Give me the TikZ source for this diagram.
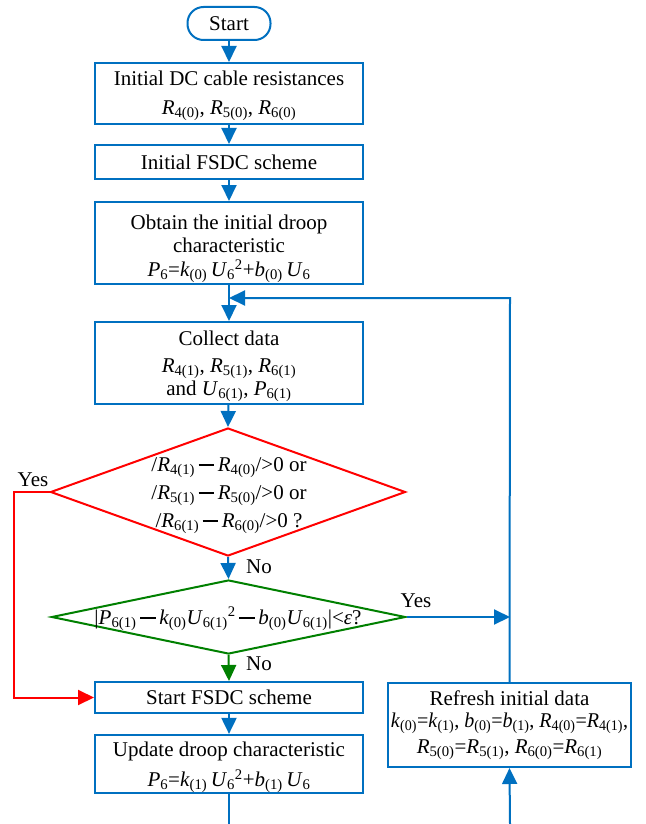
\documentclass[tikz,border=0pt]{standalone}
\usepackage{fontspec}
\usepackage{graphicx}
\setmainfont{Liberation Serif}
\usetikzlibrary{shapes.geometric,arrows.meta}
\definecolor{fblue}{RGB}{0,112,192}
\definecolor{fred}{RGB}{255,0,0}
\definecolor{fgreen}{RGB}{0,128,0}
\newcommand{\Vr}[2]{\textit{#1}\textsubscript{#2}}
\newcommand{\mns}{\,\rule[0.28em]{0.75em}{0.09em}\,}
\newcommand{\tstrut}[1]{\rule{0pt}{#1}}
\begin{document}
\begin{tikzpicture}[x=1pt,y=-1pt,
  font=\fontsize{21}{24}\selectfont,
  boxs/.style={draw=fblue,line width=2pt,minimum width=268pt,align=center,inner sep=0pt},
  conn/.style={line width=2pt,-{Triangle[length=16pt,width=15pt]}},
  plain/.style={line width=2pt},
  dia/.style={diamond,draw,line width=2pt,inner sep=0pt}]
\useasboundingbox (0,0) rectangle (645,824);
\node[draw=fblue,line width=2pt,rounded corners=16pt,minimum width=83pt,minimum height=33pt,inner sep=0pt] (start) at (229,23.5) {Start};
\node[boxs,minimum height=61pt] (b1) at (229,93.5) {\tstrut{20pt}Initial DC cable resistances\\[5pt] \Vr{R}{4(0)}, \Vr{R}{5(0)}, \Vr{R}{6(0)}};
\node[boxs,minimum height=34pt] (b2) at (229,162) {Initial FSDC scheme};
\node[boxs,minimum height=82pt] (b3) at (229,243) {\tstrut{27pt}Obtain the initial droop\\[-1pt] characteristic\\[0pt] \Vr{P}{6}=\Vr{k}{(0)}\,\Vr{U}{6}\textsuperscript{2}+\Vr{b}{(0)}\,\Vr{U}{6}};
\node[boxs,minimum height=82pt] (b4) at (229,363) {\tstrut{22pt}Collect data\\[3pt] \Vr{R}{4(1)}, \Vr{R}{5(1)}, \Vr{R}{6(1)}\\[-1pt] and \Vr{U}{6(1)}, \Vr{P}{6(1)}};
\node[dia,draw=fred,minimum width=355pt,minimum height=128pt] (d1) at (228,492) {};
\node[align=center,inner sep=0pt] (d1t) at (229,496) {/\Vr{R}{4(1)}\mns\Vr{R}{4(0)}/>0 or\\[4pt] /\Vr{R}{5(1)}\mns\Vr{R}{5(0)}/>0 or\\[4pt] /\Vr{R}{6(1)}\mns\Vr{R}{6(0)}/>0 ?};
\node[dia,draw=fgreen,minimum width=354pt,minimum height=74pt] (d2) at (228.5,617) {};
\node[inner sep=0pt] (d2t) at (228,619) {|\Vr{P}{6(1)}\mns\Vr{k}{(0)}\Vr{U}{6(1)}\textsuperscript{2}\mns\Vr{b}{(0)}\Vr{U}{6(1)}|<\textit{ε}?};
\node[boxs,minimum height=31pt] (b5) at (229,697.5) {Start FSDC scheme};
\node[boxs,minimum height=58pt] (b6) at (229,764) {\tstrut{22pt}Update droop characteristic\\[6pt] \Vr{P}{6}=\Vr{k}{(1)}\,\Vr{U}{6}\textsuperscript{2}+\Vr{b}{(1)}\,\Vr{U}{6}};
\node[draw=fblue,line width=2pt,minimum width=243pt,minimum height=84pt,align=center,inner sep=0pt] (rf) at (509.5,725) {Refresh initial data\\[-2pt] \scalebox{0.955}[1]{\Vr{k}{(0)}=\Vr{k}{(1)}, \Vr{b}{(0)}=\Vr{b}{(1)}, \Vr{R}{4(0)}=\Vr{R}{4(1)},}\\[2pt] \Vr{R}{5(0)}=\Vr{R}{5(1)}, \Vr{R}{6(0)}=\Vr{R}{6(1)}};
% labels
\node (yes1) at (33,480) {Yes};
\node (no1) at (259,567) {No};
\node (yes2) at (416,601) {Yes};
\node (no2) at (259,664) {No};
% coordinates
\coordinate (loopc) at (229,298);
\coordinate (loopr) at (510,298);
\coordinate (redtop) at (14,492);
\coordinate (redbot) at (14,697.5);
\coordinate (bend) at (229,824);
\coordinate (rfend) at (510,824);
\coordinate (yesend) at (510,617);
% connectors
\draw[conn,fblue] (start) -- (b1);
\draw[conn,fblue] (b1) -- (b2);
\draw[conn,fblue] (b2) -- (b3);
\draw[conn,fblue] (b3.south) -- (b4.north);
\draw[conn,fblue] (rf.north) -- (loopr) -- (loopc);
\draw[conn,fblue] (b4) -- (d1.north);
\draw[conn,fblue] (d1.south) -- (d2.north);
\draw[conn,fgreen] (d2.south) -- (b5.north);
\draw[conn,fred] (d1.west) -- (redtop) -- (redbot) -- (b5.west);
\draw[conn,fblue] (d2.east) -- (yesend);
\draw[conn,fblue] (b5) -- (b6);
\draw[plain,fblue] (b6.south) -- (bend);
\draw[conn,fblue] (rfend) -- (rf.south);
\end{tikzpicture}
\end{document}
